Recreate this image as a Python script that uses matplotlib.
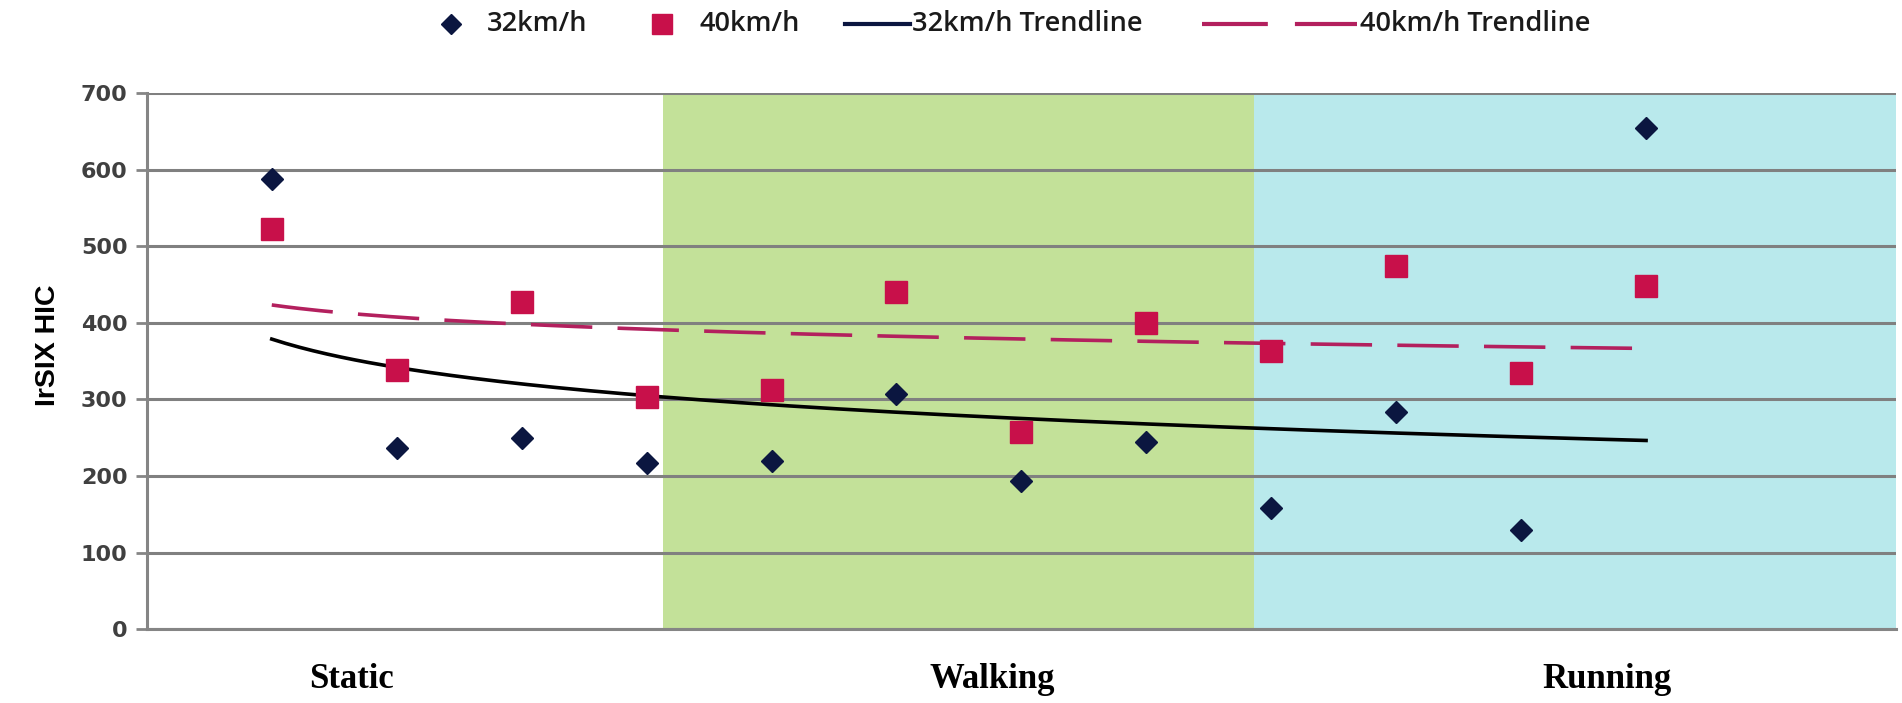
import numpy as np
import matplotlib
matplotlib.use('Agg')
import matplotlib.pyplot as plt
from matplotlib.lines import Line2D

# test index 1..12, HIC values
test_no = [1, 2, 3, 4, 5, 6, 7, 8, 9, 10, 11, 12]
hic_32 = [588, 237, 250, 217, 219, 307, 194, 244, 158, 283, 129, 655]
hic_40 = [523, 339, 427, 303, 313, 441, 258, 400, 363, 475, 335, 448]

phases = ['Static', 'Walking', 'Running']
phase_edges = [0, 4.13, 8.86, 14]
phase_colors = ['white', '#c3e199', '#b9e9ec']
phase_label_x = [1.64, 6.77, 11.69]

y_ticks = [0, 100, 200, 300, 400, 500, 600, 700]

col_32 = '#0b1640'
col_40 = '#c8104a'
col_trend40 = '#b3205e'

W, H = 1902, 703
fig = plt.figure(figsize=(W / 100, H / 100), dpi=100)
ax = fig.add_axes([0.0772, 0.1052, 0.9196, 0.762])

# background phase bands
for i in range(len(phases)):
    ax.axvspan(phase_edges[i], phase_edges[i + 1], color=phase_colors[i], zorder=0, lw=0)

ax.set_xlim(0, 14)
ax.set_ylim(0, 700)
ax.set_yticks(y_ticks)
ax.grid(axis='y', color='#808080', lw=2.2, zorder=1)
ax.set_axisbelow(True)

# logarithmic trendlines (Excel style), fitted on the data
x = np.array(test_no, dtype=float)
xs = np.linspace(1, 12, 200)
a32, b32 = np.polyfit(np.log(x), hic_32, 1)
a40, b40 = np.polyfit(np.log(x), hic_40, 1)
ax.plot(xs, a32 * np.log(xs) + b32, color='black', lw=2.6, zorder=3)
ax.plot(xs, a40 * np.log(xs) + b40, color=col_trend40, lw=2.6, dashes=(17, 7), zorder=3)

ax.plot(test_no, hic_32, 'D', ms=11.5, color=col_32, zorder=4)
ax.plot(test_no, hic_40, 's', ms=15.5, color=col_40, zorder=4)

for s in ['top', 'right']:
    ax.spines[s].set_visible(False)
for s in ['left', 'bottom']:
    ax.spines[s].set_color('#858585')
    ax.spines[s].set_linewidth(2.2)
ax.tick_params(axis='x', bottom=False, labelbottom=False)
ax.tick_params(axis='y', length=8, width=2, color='#858585', pad=6)
for lab in ax.get_yticklabels():
    lab.set_fontfamily('DejaVu Sans')
    lab.set_fontweight('bold')
    lab.set_fontsize(16)
    lab.set_color('#404040')

ax.set_ylabel('IrSIX HIC', fontfamily='Liberation Sans', fontweight='bold', fontsize=20.5)
ax.yaxis.set_label_coords(-0.049, 0.53)

for name, px in zip(phases, phase_label_x):
    ax.text(px, -0.095, name, transform=ax.get_xaxis_transform(), ha='center', va='center',
            fontfamily='Liberation Serif', fontweight='bold', fontsize=25)

# legend drawn by hand so each entry sits where it does in the original
ly = 1 - 24 / H
leg_font = {'family': 'Open Sans', 'weight': 'semibold', 'size': 19.5}
fig.add_artist(Line2D([451 / W], [ly], ls='none', marker='D', ms=10, color=col_32,
                      transform=fig.transFigure))
fig.add_artist(Line2D([662 / W], [ly], ls='none', marker='s', ms=14, color=col_40,
                      transform=fig.transFigure))
fig.add_artist(Line2D([845 / W, 910 / W], [ly, ly], color=col_32, lw=3,
                      transform=fig.transFigure))
fig.add_artist(Line2D([1202 / W, 1357 / W], [ly, ly], color=col_trend40, lw=3,
                      dashes=(15.8, 6.5), transform=fig.transFigure))
leg_labels = ['32km/h', '40km/h', '32km/h Trendline', '40km/h Trendline']
leg_x = [487, 700, 912, 1360]
for lab, px in zip(leg_labels, leg_x):
    fig.text(px / W, ly, lab, ha='left', va='center', color='#1a1a1a', **leg_font)

fig.savefig('out.png', dpi=100)
